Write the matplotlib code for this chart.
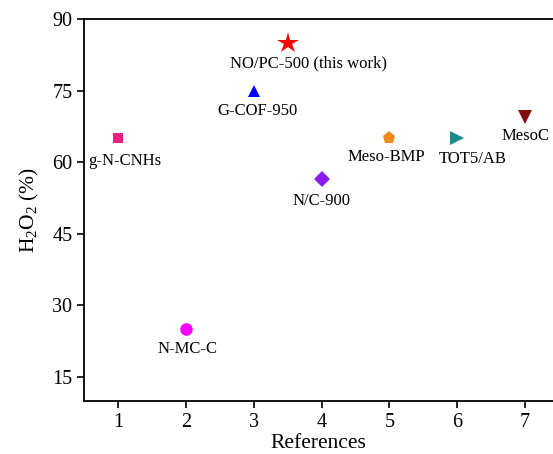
import matplotlib
matplotlib.use("Agg")
import matplotlib.pyplot as plt

plt.rcParams['font.family'] = ['Liberation Serif', 'DejaVu Serif']
plt.rcParams['mathtext.fontset'] = 'custom'
plt.rcParams['mathtext.rm'] = 'Liberation Serif'
plt.rcParams['mathtext.it'] = 'Liberation Serif:italic'

# datos
nombres = ['g-N-CNHs', 'N-MC-C', 'G-COF-950', 'NO/PC-500 (this work)',
           'N/C-900', 'Meso-BMP', 'TOT5/AB', 'MesoC']
refs = [1, 2, 3, 3.5, 4, 5, 6, 7]
h2o2 = [65, 25, 75, 85, 56.5, 65, 65, 69.5]
marcadores = ['s', 'o', '^', '*', 'D', 'p', '>', 'v']
colores = ['#eb1e82', '#ff00ff', '#0000ff', '#ff0000', '#8a1cf0',
           '#f28a1a', '#1a8c8c', '#801010']
tamanos = [7.5, 9, 9, 16, 8, 9.5, 10, 10]
# desplazamiento de etiquetas (puntos)
desp_x = [5, 1, 3, 15, 0, -2, 11, 0]
desp_y = [-16, -14, -14.5, -15, -16, -13.5, -15, -14]

fig = plt.figure(figsize=(5.53, 4.54), dpi=100)
ax = fig.add_axes([0.152, 0.117, 0.848, 0.841])

for i in range(len(nombres)):
    ax.plot(refs[i], h2o2[i], marker=marcadores[i], color=colores[i],
            markersize=tamanos[i], linestyle='none', markeredgewidth=0)
    ax.annotate(nombres[i], (refs[i], h2o2[i]), xytext=(desp_x[i], desp_y[i]),
                textcoords='offset points', ha='center', va='center', fontsize=12)

ax.set_xlim(0.5, 7.41)
ax.set_ylim(10, 90)
ax.set_xticks([1, 2, 3, 4, 5, 6, 7])
ax.set_yticks([15, 30, 45, 60, 75, 90])
ax.spines['right'].set_visible(False)
for s in ['left', 'bottom', 'top']:
    ax.spines[s].set_linewidth(1.3)
ax.tick_params(direction='out', length=5, width=1.2, labelsize=14.5)
ax.set_xlabel('References', fontsize=15.5, labelpad=2)
ax.set_ylabel('H$_2$O$_2$ (%)', fontsize=15.5, labelpad=8)

plt.savefig('out.png', dpi=100)
plt.close()
